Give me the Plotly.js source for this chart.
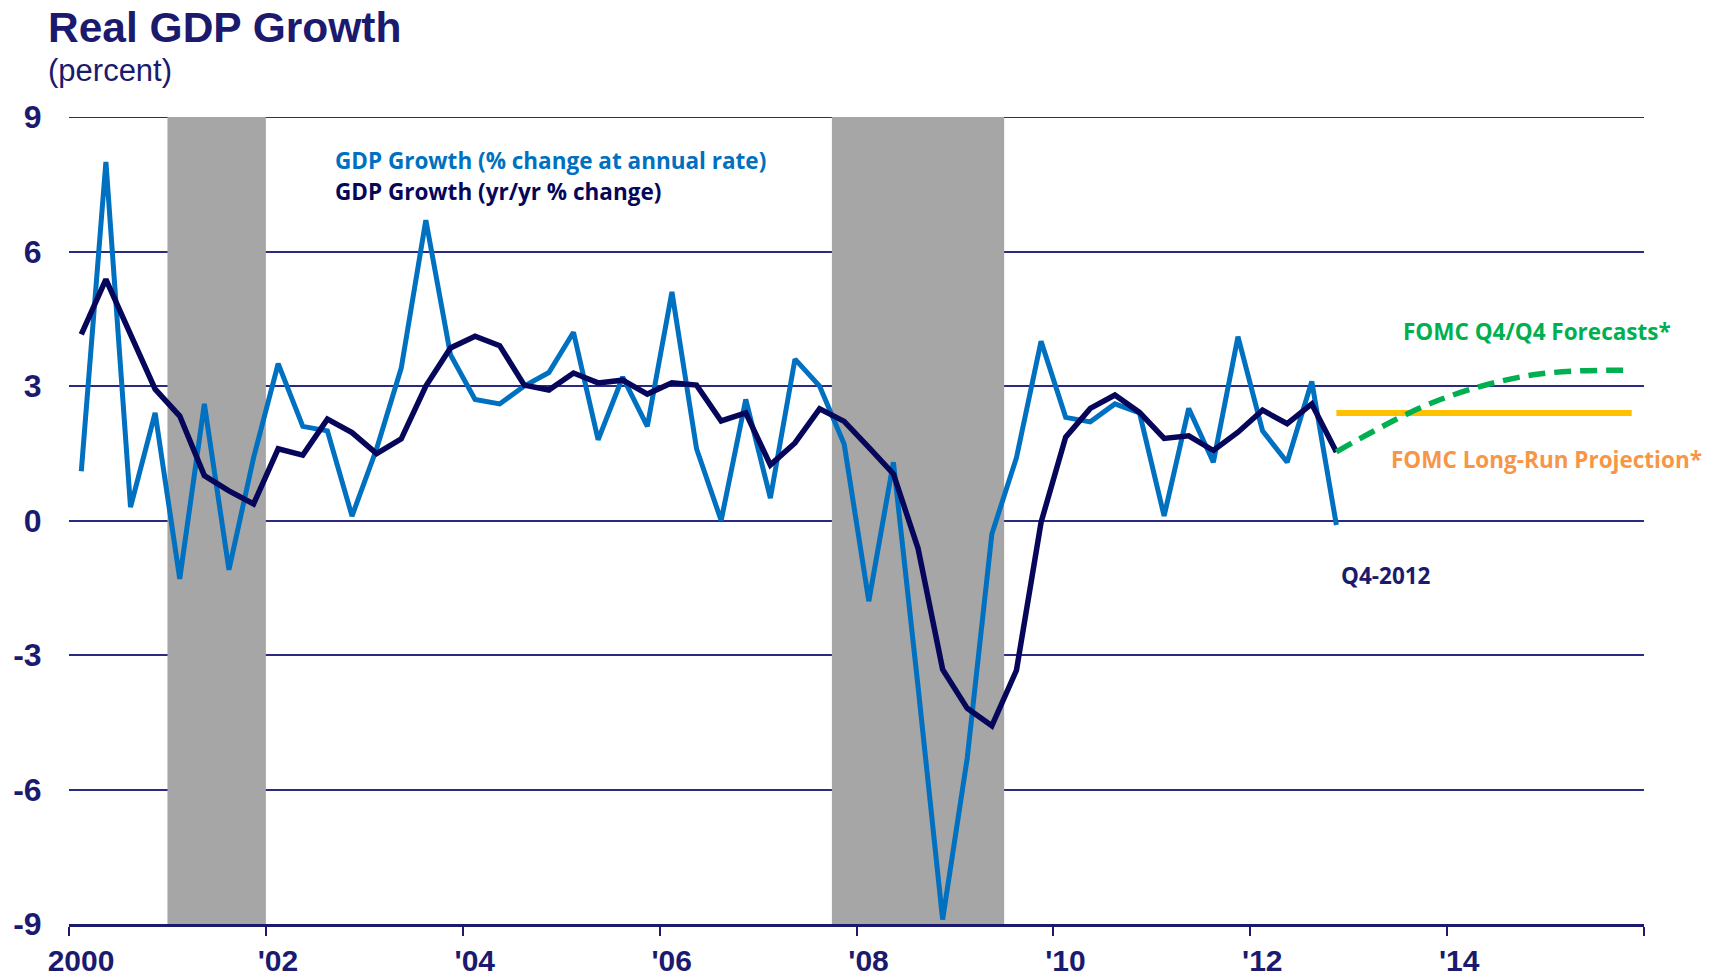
<!DOCTYPE html>
<html>
<head>
<meta charset="utf-8">
<script src="https://cdn.plot.ly/plotly-3.0.1.min.js"></script>
<style>
  html, body { margin: 0; padding: 0; background: #ffffff; }
  #chart { width: 1721px; height: 977px; }
</style>
</head>
<body>
<div id="chart"></div>
<script>
// ---------------- data ----------------
const quarters = [
  "2000Q1","2000Q2","2000Q3","2000Q4",
  "2001Q1","2001Q2","2001Q3","2001Q4",
  "2002Q1","2002Q2","2002Q3","2002Q4",
  "2003Q1","2003Q2","2003Q3","2003Q4",
  "2004Q1","2004Q2","2004Q3","2004Q4",
  "2005Q1","2005Q2","2005Q3","2005Q4",
  "2006Q1","2006Q2","2006Q3","2006Q4",
  "2007Q1","2007Q2","2007Q3","2007Q4",
  "2008Q1","2008Q2","2008Q3","2008Q4",
  "2009Q1","2009Q2","2009Q3","2009Q4",
  "2010Q1","2010Q2","2010Q3","2010Q4",
  "2011Q1","2011Q2","2011Q3","2011Q4",
  "2012Q1","2012Q2","2012Q3","2012Q4"
];

// GDP growth, % change at annual rate
const gdpAnnualRate = [
  1.1, 8.0, 0.3, 2.4,
  -1.3, 2.6, -1.1, 1.4,
  3.5, 2.1, 2.0, 0.1,
  1.6, 3.4, 6.7, 3.7,
  2.7, 2.6, 3.0, 3.3,
  4.2, 1.8, 3.2, 2.1,
  5.1, 1.6, 0.0, 2.7,
  0.5, 3.6, 3.0, 1.7,
  -1.8, 1.3, -3.7, -8.9,
  -5.3, -0.3, 1.4, 4.0,
  2.3, 2.2, 2.6, 2.4,
  0.1, 2.5, 1.3, 4.1,
  2.0, 1.3, 3.1, -0.1
];

// GDP growth, yr/yr % change
const gdpYoY = [
  4.15, 5.38, 4.15, 2.93,
  2.33, 1.0, 0.66, 0.37,
  1.6, 1.46, 2.26, 1.96,
  1.49, 1.82, 3.0, 3.85,
  4.11, 3.9, 3.02, 2.91,
  3.29, 3.07, 3.13, 2.82,
  3.07, 3.02, 2.22, 2.4,
  1.24, 1.73, 2.49, 2.21,
  1.63, 1.04, -0.62, -3.32,
  -4.19, -4.58, -3.34, -0.04,
  1.86, 2.5, 2.8, 2.41,
  1.83, 1.89, 1.56, 1.97,
  2.46, 2.16, 2.6, 1.53
];

// FOMC Q4/Q4 forecasts (central tendency midpoints), starting from last yr/yr value
const forecastQuarters = ["2012Q4","2013Q4","2014Q4","2015Q4"];
const forecastValues   = [1.53, 2.65, 3.25, 3.35];

// FOMC long-run projection
const longRunQuarters = ["2012Q4","2015Q4"];
const longRunValues   = [2.4, 2.4];

// Recessions (start, end as decimal years)
const recessionStarts = [2001.0, 2007.75];
const recessionEnds   = [2002.0, 2009.5];

// Axis ticks
const xTickVals  = [2000, 2002, 2004, 2006, 2008, 2010, 2012, 2014, 2016];
const xTickText  = ["2000", "'02", "'04", "'06", "'08", "'10", "'12", "'14", ""];
const yTickVals  = [-9, -6, -3, 0, 3, 6, 9];
const yTickText  = ["-9", "-6", "-3", "0", "3", "6", "9"];
const yTop = 9;

// ---------------- helpers ----------------
// quarter label -> mid-quarter decimal year
function qToX(q) {
  const y = parseInt(q.slice(0, 4), 10);
  const n = parseInt(q.slice(5), 10);
  return y + (n - 0.5) / 4;
}

const NAVY = "#1B1A6E";
const DARK = "#06065A";
const LIGHT = "#0070C0";
const GREEN = "#00B050";
const ORANGE_LINE = "#FFC000";
const ORANGE_TEXT = "#F79646";
const GRID = "#2A2A80";

// plot area in pixels (for annotation placement)
const L = 69, R = 77, T = 117, B = 53, W = 1721, H = 977;
const PW = W - L - R, PH = H - T - B;
const px = x => (x - L) / PW;
const py = y => (H - B - y) / PH;

const traces = [
  {
    x: quarters.map(qToX), y: gdpAnnualRate, type: "scatter", mode: "lines",
    line: { color: LIGHT, width: 5 }, name: "annual rate"
  },
  {
    x: quarters.map(qToX), y: gdpYoY, type: "scatter", mode: "lines",
    line: { color: DARK, width: 5.5 }, name: "yr/yr"
  },
  {
    x: longRunQuarters.map(qToX), y: longRunValues, type: "scatter", mode: "lines",
    line: { color: ORANGE_LINE, width: 6 }, name: "long run"
  },
  {
    x: forecastQuarters.map(qToX), y: forecastValues, type: "scatter", mode: "lines",
    line: { color: GREEN, width: 5.5, dash: "17px,9px", shape: "spline", smoothing: 1 },
    name: "forecast"
  }
];

// top gridline (at the range edge) then recession bars over it
const shapes = [
  { type: "line", xref: "paper", yref: "y", x0: 0, x1: 1, y0: yTop, y1: yTop,
    line: { color: GRID, width: 2 }, layer: "between" }
].concat(recessionStarts.map((s, i) => ({
  type: "rect", xref: "x", yref: "y",
  x0: s, x1: recessionEnds[i], y0: -9, y1: 9,
  fillcolor: "#A6A6A6", line: { width: 0 }, layer: "between"
})));

const textFont = "'Open Sans', 'Noto Sans', Lato, sans-serif";
const TS = 22.5;
const annotations = [
  { text: "Real GDP Growth", xref: "paper", yref: "paper", x: px(46), y: py(27),
    xanchor: "left", yanchor: "middle", showarrow: false,
    font: { family: "'Liberation Sans', Arial, sans-serif", size: 42.5, color: NAVY, weight: "bold" } },
  { text: "(percent)", xref: "paper", yref: "paper", x: px(46), y: py(71),
    xanchor: "left", yanchor: "middle", showarrow: false,
    font: { family: "'Liberation Sans', Arial, sans-serif", size: 31, color: NAVY } },
  { text: "<b>GDP Growth (% change at annual rate)</b>", xref: "paper", yref: "paper",
    x: px(333), y: py(160), xanchor: "left", yanchor: "middle", showarrow: false,
    font: { family: textFont, size: TS, color: LIGHT } },
  { text: "<b>GDP Growth (yr/yr % change)</b>", xref: "paper", yref: "paper",
    x: px(333), y: py(192), xanchor: "left", yanchor: "middle", showarrow: false,
    font: { family: textFont, size: TS, color: DARK } },
  { text: "<b>FOMC Q4/Q4 Forecasts*</b>", xref: "paper", yref: "paper",
    x: px(1401), y: py(331), xanchor: "left", yanchor: "middle", showarrow: false,
    font: { family: textFont, size: TS, color: GREEN } },
  { text: "<b>FOMC Long-Run Projection*</b>", xref: "paper", yref: "paper",
    x: px(1389), y: py(459), xanchor: "left", yanchor: "middle", showarrow: false,
    font: { family: textFont, size: TS, color: ORANGE_TEXT } },
  { text: "<b>Q4-2012</b>", xref: "paper", yref: "paper",
    x: px(1339), y: py(575), xanchor: "left", yanchor: "middle", showarrow: false,
    font: { family: textFont, size: TS, color: NAVY } }
];

const layout = {
  width: W, height: H,
  margin: { l: L, r: R, t: T, b: B, pad: 0 },
  paper_bgcolor: "#ffffff", plot_bgcolor: "#ffffff",
  showlegend: false,
  xaxis: {
    range: [2000, 2016], tickmode: "array", tickvals: xTickVals, ticktext: xTickText,
    ticks: "outside", ticklen: 9, tickwidth: 2, tickcolor: NAVY,
    showline: true, linecolor: NAVY, linewidth: 2.5,
    showgrid: false, zeroline: false, fixedrange: true,
    ticklabelshift: 12, ticklabelstandoff: -1,
    tickfont: { family: "'Liberation Sans', Arial, sans-serif", size: 30, color: NAVY, weight: "bold" }
  },
  yaxis: {
    range: [-9, 9], tickmode: "array", tickvals: yTickVals, ticktext: yTickText,
    ticks: "outside", ticklen: 1, tickcolor: "rgba(0,0,0,0)",
    showgrid: true, gridcolor: GRID, gridwidth: 2,
    zeroline: false, showline: false, fixedrange: true,
    ticklabelstandoff: 19,
    tickfont: { family: "'Liberation Sans', Arial, sans-serif", size: 32, color: NAVY, weight: "bold" }
  },
  shapes: shapes,
  annotations: annotations
};

Plotly.newPlot("chart", traces, layout, { staticPlot: true, displayModeBar: false });
</script>
</body>
</html>
